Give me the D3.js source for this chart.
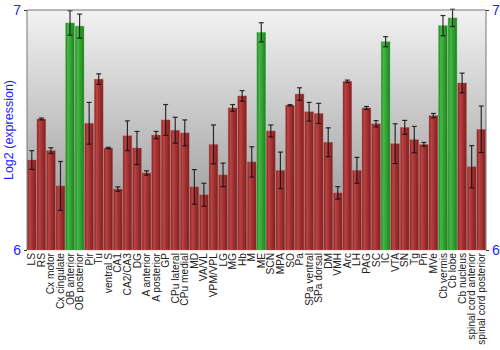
<!DOCTYPE html>
<html>
<head>
<meta charset="utf-8">
<script src="https://cdn.jsdelivr.net/npm/d3@7"></script>
<style>
  html, body { margin: 0; padding: 0; background: #fff; }
  svg { display: block; font-family: "Liberation Sans", Arial, sans-serif; }
</style>
</head>
<body>
<svg id="chart" width="500" height="350"></svg>
<script>
// Brain regions, in plotting order
const regions = [
  "LS", "RS", "Cx motor", "Cx cingulate", "OB anterior", "OB posterior", "Pir", "Tu",
  "ventral S", "CA1", "CA2/CA3", "DG", "A anterior", "A posterior", "GP", "CPu lateral",
  "CPu medial", "MD", "VA/VL", "VPM/VPL", "LG", "MG", "Hb", "M", "ME", "SCN", "MPA", "SO",
  "Pa", "SPa ventral", "SPa dorsal", "DM", "VMH", "Arc", "LH", "PAG", "SC", "IC", "VTA",
  "SN", "Tg", "Pn", "MVe", "Cb vermis", "Cb lobe", "Cb nucleus",
  "spinal cord anterior", "spinal cord posterior"
];

// Mean log2 expression per region
const expression = [
  6.375, 6.546, 6.414, 6.267, 6.946, 6.933, 6.528, 6.712,
  6.425, 6.254, 6.476, 6.425, 6.321, 6.479, 6.542, 6.499,
  6.488, 6.263, 6.230, 6.440, 6.313, 6.592, 6.642, 6.367, 6.907, 6.496, 6.332, 6.603,
  6.650, 6.576, 6.569, 6.449, 6.238, 6.703, 6.332, 6.592, 6.526, 6.868, 6.443,
  6.511, 6.460, 6.440, 6.560, 6.935, 6.967, 6.696,
  6.347, 6.503
];

// Standard error per region
const stderr = [
  0.039, 0.004, 0.012, 0.102, 0.051, 0.050, 0.087, 0.022,
  0.003, 0.009, 0.062, 0.069, 0.009, 0.015, 0.064, 0.054,
  0.054, 0.072, 0.048, 0.081, 0.049, 0.014, 0.022, 0.063, 0.040, 0.025, 0.076, 0.003,
  0.026, 0.039, 0.042, 0.060, 0.026, 0.005, 0.054, 0.006, 0.013, 0.021, 0.083,
  0.029, 0.055, 0.008, 0.009, 0.042, 0.036, 0.041,
  0.088, 0.097
];

// Regions shown highlighted in green
const highlighted = ["OB anterior", "OB posterior", "ME", "IC", "Cb vermis", "Cb lobe"];

const yTicks = [6, 7];

const svg = d3.select("#chart");
const margin = { left: 27, right: 14, top: 10, bottom: 100 };
const W = 500, H = 350;
const x0 = margin.left, x1 = W - margin.right;
const yTop = margin.top, yBot = H - margin.bottom;

const x = d3.scaleBand().domain(regions).range([x0, x1]).paddingInner(0.08).paddingOuter(0.04);
const y = d3.scaleLinear().domain([6, 7]).range([yBot, yTop]);

const defs = svg.append("defs");
const bg = defs.append("linearGradient").attr("id", "bgGrad")
  .attr("x1", 0).attr("y1", 0).attr("x2", 0).attr("y2", 1);
bg.append("stop").attr("offset", "0%").attr("stop-color", "#f2f2f2");
bg.append("stop").attr("offset", "100%").attr("stop-color", "#8f8f8f");

function barGradient(id, edge, mid, light) {
  const g = defs.append("linearGradient").attr("id", id)
    .attr("x1", 0).attr("y1", 0).attr("x2", 1).attr("y2", 0);
  g.append("stop").attr("offset", "0%").attr("stop-color", edge);
  g.append("stop").attr("offset", "25%").attr("stop-color", light);
  g.append("stop").attr("offset", "55%").attr("stop-color", mid);
  g.append("stop").attr("offset", "100%").attr("stop-color", edge);
}
barGradient("redGrad", "#7d2020", "#a33232", "#bb4444");
barGradient("greenGrad", "#1f7f1f", "#34a434", "#46b846");

// plot background
svg.append("rect").attr("x", x0).attr("y", yTop)
  .attr("width", x1 - x0).attr("height", yBot - yTop)
  .attr("fill", "url(#bgGrad)");

const rows = regions.map((r, i) => ({ r, v: expression[i], e: stderr[i] }));

// bars
svg.append("g").selectAll("rect").data(rows).join("rect")
  .attr("x", d => x(d.r))
  .attr("y", d => y(d.v))
  .attr("width", x.bandwidth())
  .attr("height", d => yBot - y(d.v))
  .attr("fill", d => highlighted.includes(d.r) ? "url(#greenGrad)" : "url(#redGrad)")
  .attr("stroke", d => highlighted.includes(d.r) ? "#5cc25c" : "#c96262")
  .attr("stroke-opacity", 0.6)
  .attr("stroke-width", 0.6);

// error bars
const eb = svg.append("g").attr("stroke", "#111").attr("stroke-width", 1.2).attr("stroke-opacity", 0.85);
rows.forEach(d => {
  const cx = x(d.r) + x.bandwidth() / 2;
  const ya = y(d.v + d.e), yb = y(d.v - d.e);
  eb.append("line").attr("x1", cx).attr("x2", cx).attr("y1", ya).attr("y2", yb);
  eb.append("line").attr("x1", cx - 2.5).attr("x2", cx + 2.5).attr("y1", ya).attr("y2", ya);
  eb.append("line").attr("x1", cx - 2.5).attr("x2", cx + 2.5).attr("y1", yb).attr("y2", yb);
});

// frame
svg.append("path")
  .attr("d", `M${x0},${yBot}V${yTop}H${x1}V${yBot}`)
  .attr("fill", "none").attr("stroke", "#777").attr("stroke-width", 1);

// y axes on both sides
const axL = svg.append("g").attr("transform", `translate(${x0},0)`)
  .call(d3.axisLeft(y).tickValues(yTicks).tickFormat(d3.format("d")).tickSize(3).tickSizeOuter(0));
const axR = svg.append("g").attr("transform", `translate(${x1},0)`)
  .call(d3.axisRight(y).tickValues(yTicks).tickFormat(d3.format("d")).tickSize(3).tickSizeOuter(0));
[axL, axR].forEach(a => {
  a.select(".domain").remove();
  a.selectAll(".tick line").attr("stroke", "#333");
  a.selectAll(".tick text").attr("fill", "#2424ff").attr("font-size", 14)
    .attr("font-family", "'Liberation Sans', Arial, sans-serif");
});

// region labels
const xa = svg.append("g").attr("transform", `translate(0,${yBot})`)
  .call(d3.axisBottom(x).tickSize(0).tickSizeOuter(0));
xa.select(".domain").remove();
xa.selectAll(".tick text")
  .attr("transform", "rotate(-90)")
  .attr("text-anchor", "end")
  .attr("x", -3).attr("y", 0).attr("dy", "0.35em")
  .attr("fill", "#222").attr("font-size", 10.2)
  .attr("font-family", "'Liberation Sans', Arial, sans-serif");

// axis title
svg.append("text")
  .attr("transform", `translate(13,${(yTop + yBot) / 2}) rotate(-90)`)
  .attr("text-anchor", "middle")
  .attr("fill", "#2424ff").attr("font-size", 12.5)
  .text("Log2 (expression)");
</script>
</body>
</html>
